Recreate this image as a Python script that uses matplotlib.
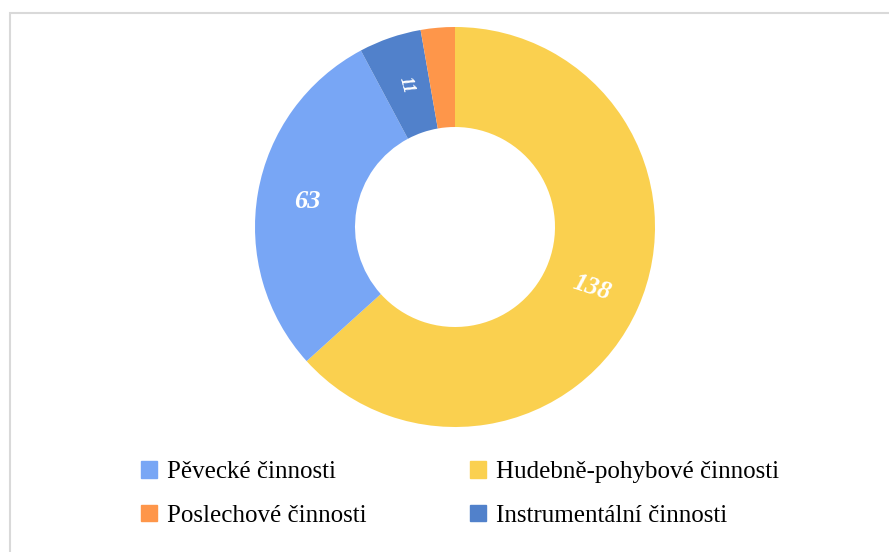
import numpy as np
import matplotlib.pyplot as plt
from matplotlib.patches import Rectangle, Patch

# data (clockwise from 12 o'clock)
categories = ["Hudebně-pohybové činnosti", "Pěvecké činnosti",
              "Instrumentální činnosti", "Poslechové činnosti"]
values = [138, 63, 11, 6]
labels = ["138", "63", "11", ""]
colors = ["#FAD04F", "#78A6F5", "#5181CB", "#FE964A"]

# legend order as in the reference (row-wise, 2 columns)
legend_order = ["Pěvecké činnosti", "Hudebně-pohybové činnosti",
                "Poslechové činnosti", "Instrumentální činnosti"]

plt.rcParams['font.family'] = ['Liberation Serif', 'DejaVu Serif']

W, H = 889, 552
fig = plt.figure(figsize=(W / 100, H / 100), dpi=100)

# pie axes: centre (455, 227) px from top, radius 200 px
cx, cy, r = 455, 227, 200
ax = fig.add_axes([(cx - r) / W, (H - cy - r) / H, 2 * r / W, 2 * r / H])

wedges, _ = ax.pie(values, colors=colors, startangle=90, counterclock=False,
                   radius=1.0, wedgeprops=dict(width=0.5, linewidth=0))
ax.set_xlim(-1, 1)
ax.set_ylim(-1, 1)
ax.set_aspect('equal')
ax.axis('off')

# data labels in the middle of the ring
rot = [-18, 0, -75, 0]
sizes = [18.5, 19, 13, 18]
for w, lab, ro, fs in zip(wedges, labels, rot, sizes):
    if not lab:
        continue
    ang = np.deg2rad((w.theta1 + w.theta2) / 2)
    ax.text(0.75 * np.cos(ang), 0.75 * np.sin(ang), lab, color='white',
            fontsize=fs, fontweight='bold', fontstyle='italic',
            ha='center', va='center', rotation=ro)

# legend, filled column-wise so it reads row-wise like the reference
col_of = dict(zip(categories, colors))
ordered = [legend_order[0], legend_order[2], legend_order[1], legend_order[3]]
handles = [Patch(color=col_of[c], label=c) for c in ordered]
fig.legend(handles=handles, ncol=2, loc='upper left',
           bbox_to_anchor=(141 / W, 1 - 461 / H), frameon=False,
           fontsize=18, handlelength=0.64, handleheight=0.64,
           handletextpad=0.4, columnspacing=4.15, labelspacing=0.86,
           borderpad=0, borderaxespad=0)

# light grey frame
fig.add_artist(Rectangle((9.5 / W, -0.1), 1.2, 1.1 - 12.5 / H,
                         transform=fig.transFigure, fill=False,
                         ec='#d9d9d9', lw=1.5))

fig.savefig("out.png", dpi=100, facecolor='white')
